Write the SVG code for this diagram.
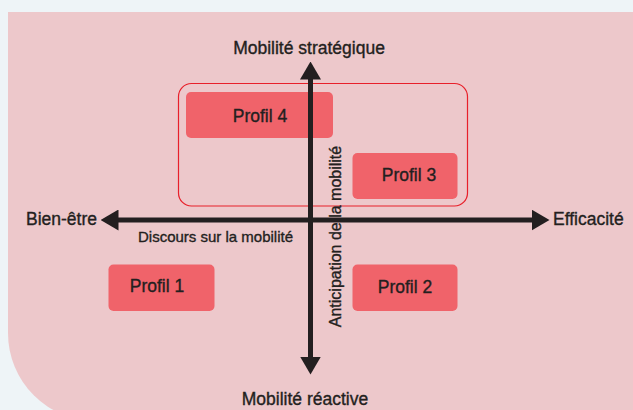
<svg xmlns="http://www.w3.org/2000/svg" width="633" height="410" viewBox="0 0 633 410">
  <defs>
    <style>
      .t { font-family: "Liberation Sans", Arial, sans-serif; fill: #231F20; stroke: #231F20; stroke-width: 0.35px; font-size: 17.5px; }
      .s { font-size: 15px; }
      .box { fill: #F0636A; }
      .axis { stroke: #231F20; stroke-width: 5; fill: none; }
    </style>
    <marker id="ah" markerUnits="userSpaceOnUse" markerWidth="18" markerHeight="21" viewBox="0 0 18 21" refX="0.5" refY="10.5" orient="auto-start-reverse">
      <path d="M0,0 L18,10.5 L0,21 z" fill="#231F20"/>
    </marker>
  </defs>
  <rect x="0" y="0" width="633" height="410" fill="#EEF4F7"/>
  <path d="M8,12 H633 V421 H96 A88,88 0 0 1 8,333 Z" fill="#EDC8CB"/>
  <g id="group">
    <rect x="178.5" y="83.5" width="289" height="122.5" rx="13" fill="none" stroke="#E8202A" stroke-width="1.2"/>
  </g>
  <g id="profil4">
    <rect class="box" x="186" y="92" width="147" height="46" rx="5"/>
    <text class="t" x="260" y="121.7" text-anchor="middle">Profil 4</text>
  </g>
  <g id="profil3">
    <rect class="box" x="352.5" y="153" width="105" height="46" rx="5"/>
    <text class="t" x="409" y="180.7" text-anchor="middle">Profil 3</text>
  </g>
  <g id="profil1">
    <rect class="box" x="108.5" y="264.5" width="106" height="46.5" rx="5"/>
    <text class="t" x="157" y="291.7" text-anchor="middle">Profil 1</text>
  </g>
  <g id="profil2">
    <rect class="box" x="352.5" y="264.5" width="105" height="46.5" rx="5"/>
    <text class="t" x="405" y="293.3" text-anchor="middle">Profil 2</text>
  </g>
  <g id="connectors">
    <line class="axis" x1="118" y1="220" x2="532" y2="220" marker-start="url(#ah)" marker-end="url(#ah)"/>
    <line class="axis" x1="310.5" y1="79" x2="310.5" y2="357" marker-start="url(#ah)" marker-end="url(#ah)"/>
  </g>
  <g id="labels">
    <text class="t" x="309" y="53.5" text-anchor="middle">Mobilité stratégique</text>
    <text class="t" x="305" y="404.5" text-anchor="middle">Mobilité réactive</text>
    <text class="t" x="97" y="225" text-anchor="end">Bien-être</text>
    <text class="t" x="553" y="224.5">Efficacité</text>
    <text class="t s" x="138" y="241.7">Discours sur la mobilité</text>
    <text class="t" x="0" y="0" text-anchor="middle" transform="translate(341,236.5) rotate(-90)" style="font-size:16px">Anticipation de la mobilité</text>
  </g>
</svg>
